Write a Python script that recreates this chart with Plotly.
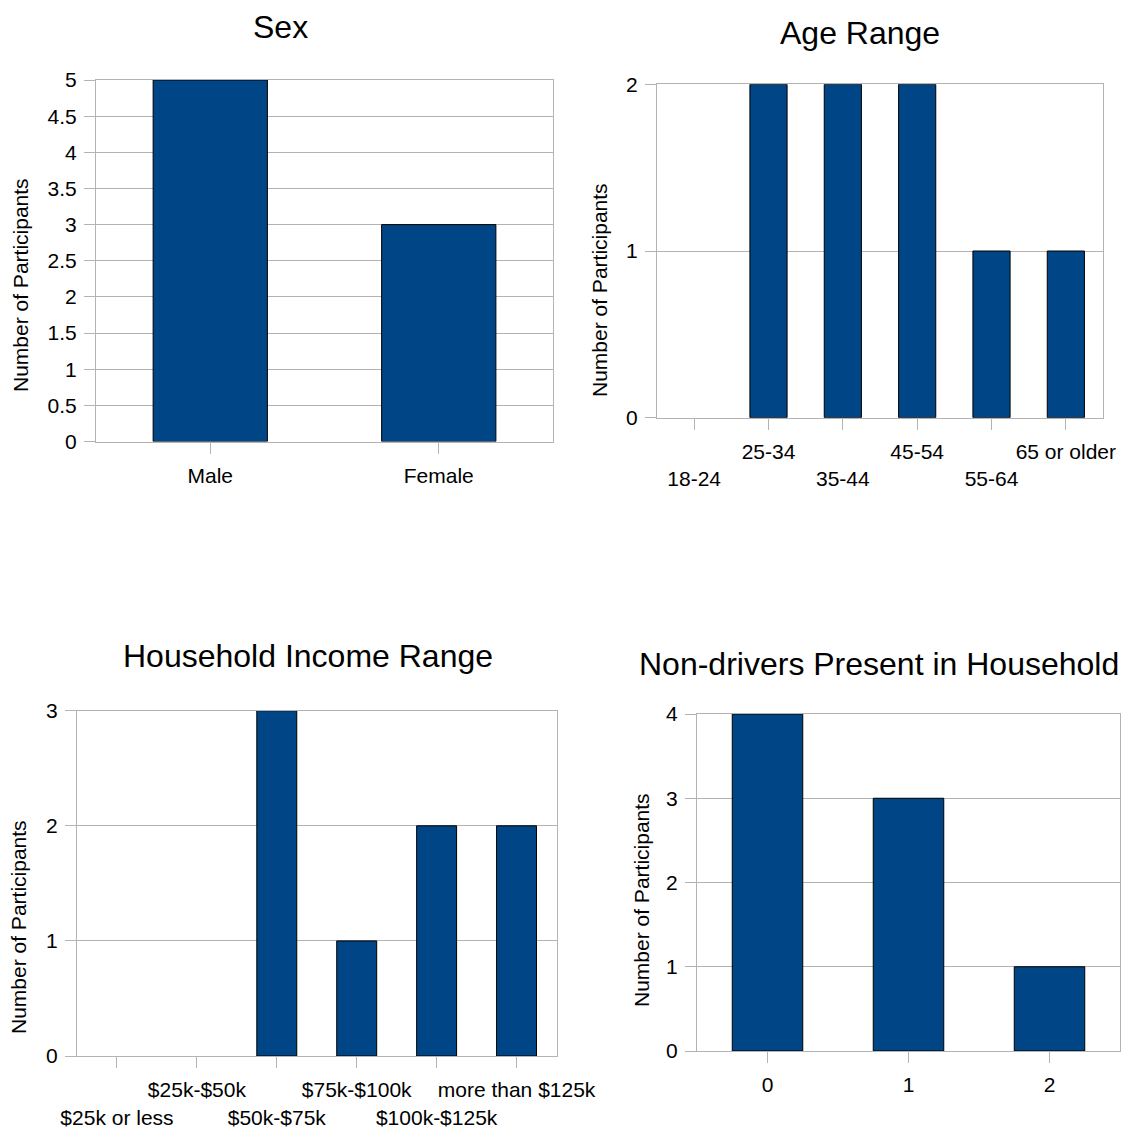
import plotly.graph_objects as go

W, H = 1132, 1134

# ---- data ----
sex_categories = ["Male", "Female"]
sex_values = [5, 3]

age_categories = ["18-24", "25-34", "35-44", "45-54", "55-64", "65 or older"]
age_values = [0, 2, 2, 2, 1, 1]

income_categories = ["$25k or less", "$25k-$50k", "$50k-$75k", "$75k-$100k",
                     "$100k-$125k", "more than $125k"]
income_values = [0, 0, 3, 1, 2, 2]

nondriver_categories = ["0", "1", "2"]
nondriver_values = [4, 3, 1]

titles = ["Sex", "Age Range", "Household Income Range", "Non-drivers Present in Household"]
y_title = "Number of Participants"

BAR = "#004586"
GRID = "#b3b3b3"
FONT = "Liberation Sans, Arial, sans-serif"


def px_x(a, b):
    return [a / W, b / W]


def px_y(top, bottom):
    return [1 - bottom / H, 1 - top / H]


def stagger(labels):
    # alternate labels go on a second row
    return [("<br>" + t) if i % 2 == 0 else t for i, t in enumerate(labels)]


fig = go.Figure()

panels = [
    dict(cats=sex_categories, vals=sex_values, xd=px_x(96, 553), yd=px_y(80, 441.5),
         ymax=5, dtick=0.5, ticktext=sex_categories),
    dict(cats=age_categories, vals=age_values, xd=px_x(657, 1103), yd=px_y(84.3, 417.7),
         ymax=2, dtick=1, ticktext=stagger(age_categories)),
    dict(cats=income_categories, vals=income_values, xd=px_x(77, 556.5), yd=px_y(710.7, 1056),
         ymax=3, dtick=1, ticktext=stagger(income_categories)),
    dict(cats=nondriver_categories, vals=nondriver_values, xd=px_x(697, 1120), yd=px_y(714, 1051),
         ymax=4, dtick=1, ticktext=nondriver_categories),
]

for i, p in enumerate(panels, start=1):
    xa = "x" if i == 1 else f"x{i}"
    ya = "y" if i == 1 else f"y{i}"
    fig.add_trace(go.Bar(
        x=p["cats"], y=p["vals"], xaxis=xa, yaxis=ya, width=0.5,
        marker=dict(color=BAR,
                    line=dict(color="#000000", width=[1 if v else 0 for v in p["vals"]])),
        showlegend=False, hoverinfo="x+y",
    ))
    xkey = "xaxis" if i == 1 else f"xaxis{i}"
    ykey = "yaxis" if i == 1 else f"yaxis{i}"
    n = len(p["cats"])
    fig.layout[xkey] = dict(
        domain=p["xd"], anchor=ya, type="category",
        range=[-0.5, n - 0.5],
        tickmode="array", tickvals=p["cats"], ticktext=p["ticktext"],
        tickangle=0, automargin=False, ticklabelstandoff=4,
        ticks="outside", ticklen=11, tickcolor=GRID, tickwidth=1,
        showline=True, linecolor=GRID, linewidth=1, mirror=True,
        showgrid=False, zeroline=False,
        tickfont=dict(family=FONT, size=21, color="#000000"),
        fixedrange=True,
    )
    fig.layout[ykey] = dict(
        domain=p["yd"], anchor=xa,
        range=[0, p["ymax"]], dtick=p["dtick"], tick0=0,
        automargin=False, ticklabelstandoff=3,
        ticks="outside", ticklen=11, tickcolor=GRID, tickwidth=1,
        showline=True, linecolor=GRID, linewidth=1, mirror=True,
        showgrid=True, gridcolor=GRID, gridwidth=1, zeroline=False,
        tickfont=dict(family=FONT, size=21, color="#000000"),
        fixedrange=True,
    )

# chart titles
title_pos = [(280, 27), (860, 33), (308, 656), (879, 664)]
for t, (x, y) in zip(titles, title_pos):
    fig.add_annotation(text=t, x=x / W, y=1 - y / H, xref="paper", yref="paper",
                       showarrow=False, xanchor="center", yanchor="middle",
                       font=dict(family=FONT, size=32, color="#000000"))

# y-axis titles
ytitle_pos = [(20, 285), (600, 290), (18, 927), (641, 900)]
for (x, y) in ytitle_pos:
    fig.add_annotation(text=y_title, x=x / W, y=1 - y / H, xref="paper", yref="paper",
                       showarrow=False, xanchor="center", yanchor="middle", textangle=-90,
                       font=dict(family=FONT, size=21, color="#000000"))

fig.update_layout(
    width=W, height=H, autosize=False,
    margin=dict(l=0, r=0, t=0, b=0, pad=0, autoexpand=False),
    paper_bgcolor="white", plot_bgcolor="white",
    bargap=0.5,
)

fig.write_html("out.html", config={"displayModeBar": False},
               post_script="document.body.style.margin='0';document.body.style.overflow='hidden';")
